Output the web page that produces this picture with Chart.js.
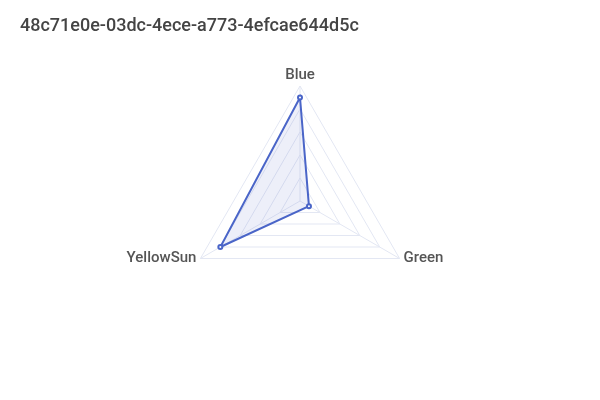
<!DOCTYPE html>
<html><head><meta charset="utf-8">
<script src="https://cdn.jsdelivr.net/npm/chart.js@4"></script>
<style>html,body{margin:0;padding:0;background:#fff}#c{width:600px;height:400px}</style>
</head><body><div id="c"><canvas id="cv" width="600" height="400"></canvas></div>
<script>
const titleText = "48c71e0e-03dc-4ece-a773-4efcae644d5c";
const categories = ["Blue", "Green", "YellowSun"];
const seriesValues = [90, 9, 80];
const scaleMax = 100;
const scaleStep = 20;

const vertexLabels = {
  id: 'vertexLabels',
  afterDraw(chart) {
    const s = chart.scales.r;
    const ctx = chart.ctx;
    ctx.save();
    ctx.font = '500 15px Roboto';
    ctx.fillStyle = '#555';
    ctx.textBaseline = 'middle';
    chart.data.labels.forEach((lab, i) => {
      const p = s.getPointPosition(i, s.drawingArea);
      if (Math.abs(p.x - s.xCenter) < 1) {
        ctx.textAlign = 'center';
        ctx.fillText(lab, p.x, p.y - 11);
      } else if (p.x < s.xCenter) {
        ctx.textAlign = 'right';
        ctx.fillText(lab, p.x - 4, p.y);
      } else {
        ctx.textAlign = 'left';
        ctx.fillText(lab, p.x + 4, p.y);
      }
    });
    ctx.restore();
  }
};

new Chart(document.getElementById('cv'), {
  type: 'radar',
  data: {
    labels: categories,
    datasets: [{
      label: 'series',
      data: seriesValues,
      borderColor: '#4a65c8',
      backgroundColor: 'rgba(74,101,200,0.1)',
      borderWidth: 2,
      pointRadius: 2,
      pointBorderWidth: 2,
      pointBackgroundColor: '#ffffff',
      pointBorderColor: '#4a65c8'
    }]
  },
  options: {
    responsive: false,
    animation: false,
    layout: { padding: { left: 20, right: 20, top: 0, bottom: 83 } },
    plugins: {
      legend: { display: false },
      tooltip: { enabled: false },
      title: {
        display: true, text: titleText, align: 'start',
        color: '#444', font: { family: 'Roboto', size: 18, weight: '500' },
        padding: { top: 16, bottom: 49 }
      }
    },
    scales: {
      r: {
        min: 0, max: scaleMax,
        ticks: { display: false, stepSize: scaleStep },
        grid: { color: '#e3e7f3' },
        angleLines: { color: '#e3e7f3' },
        pointLabels: { display: false }
      }
    }
  },
  plugins: [vertexLabels]
});
</script></body></html>
